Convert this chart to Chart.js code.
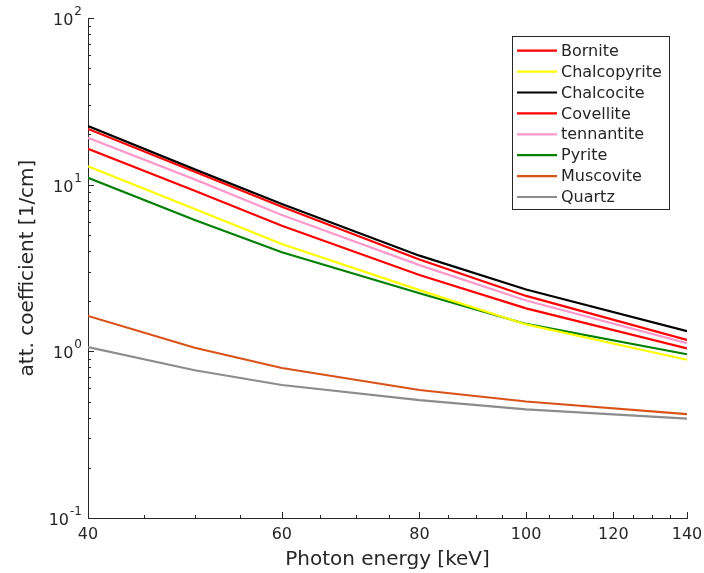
<!DOCTYPE html>
<html>
<head>
<meta charset="utf-8">
<title>Attenuation coefficients</title>
<script src="https://cdn.jsdelivr.net/npm/chart.js@4/dist/chart.umd.min.js"></script>
<style>
  html, body { margin: 0; padding: 0; background: #fff; }
  #wrap { width: 704px; height: 573px; }
</style>
</head>
<body>
<div id="wrap"><canvas id="attChart" width="704" height="573"></canvas></div>
<script>
// photon energies [keV]
const energies = [40, 50, 60, 80, 100, 140];

// attenuation coefficients [1/cm]
const bornite      = [21.6, 11.95, 7.37, 3.56, 2.15, 1.17];
const chalcopyrite = [12.9, 7.14, 4.40, 2.33, 1.45, 0.89];
const chalcocite   = [22.5, 12.35, 7.65, 3.75, 2.35, 1.32];
const covellite    = [16.4, 9.19, 5.67, 2.87, 1.81, 1.04];
const tennantite   = [19.1, 10.76, 6.57, 3.29, 2.02, 1.12];
const pyrite       = [11.0, 6.13, 3.93, 2.23, 1.46, 0.96];
const muscovite    = [1.63, 1.05, 0.794, 0.586, 0.50, 0.42];
const quartz       = [1.06, 0.77, 0.628, 0.51, 0.449, 0.395];

const xTickValues = [40, 60, 80, 100, 120, 140];
const yTickValues = [0.1, 1, 10, 100];
const yTickExps   = ['-1', '0', '1', '2'];

const fontFamily = '"DejaVu Sans", sans-serif';
const textColor = '#262626';
const axisColor = '#262626';

function toPoints(values) {
  return energies.map((e, i) => ({ x: e, y: values[i] }));
}

function series(label, values, color) {
  return { label: label, data: toPoints(values), borderColor: color, backgroundColor: color };
}

// inward tick marks (major + minor) and the superscript y labels
const axisDecor = {
  id: 'axisDecor',
  afterDraw(chart) {
    const { ctx, chartArea: a, scales: { x, y } } = chart;
    ctx.save();
    ctx.strokeStyle = axisColor;
    ctx.lineWidth = 1;
    ctx.beginPath();
    const xMinor = [];
    for (let v = 45; v < 140; v += 5) {
      if (!xTickValues.includes(v)) xMinor.push(v);
    }
    xTickValues.forEach(v => {
      const px = Math.round(x.getPixelForValue(v)) + 0.5;
      ctx.moveTo(px, a.bottom); ctx.lineTo(px, a.bottom - 6);
    });
    xMinor.forEach(v => {
      const px = Math.round(x.getPixelForValue(v)) + 0.5;
      ctx.moveTo(px, a.bottom); ctx.lineTo(px, a.bottom - 3);
    });
    yTickValues.forEach(v => {
      const py = Math.round(y.getPixelForValue(v)) + 0.5;
      ctx.moveTo(a.left, py); ctx.lineTo(a.left + 6, py);
    });
    [0.1, 1, 10].forEach(d => {
      for (let k = 2; k <= 9; k++) {
        const py = Math.round(y.getPixelForValue(d * k)) + 0.5;
        ctx.moveTo(a.left, py); ctx.lineTo(a.left + 3, py);
      }
    });
    ctx.stroke();

    // y labels: 10 with a raised exponent
    ctx.fillStyle = textColor;
    ctx.textBaseline = 'middle';
    yTickValues.forEach((v, i) => {
      const py = y.getPixelForValue(v);
      const right = a.left - 6;
      ctx.font = '12px ' + fontFamily;
      const ew = ctx.measureText(yTickExps[i]).width;
      ctx.textAlign = 'left';
      ctx.fillText(yTickExps[i], right - ew, py - 6);
      ctx.font = '16px ' + fontFamily;
      ctx.textAlign = 'right';
      ctx.fillText('10', right - ew - 1, py + 3);
    });
    ctx.restore();
  }
};

// boxed legend in the upper right of the plot area
const boxLegend = {
  id: 'boxLegend',
  afterDraw(chart) {
    const { ctx } = chart;
    const x0 = 512, y0 = 36, w = 157, h = 173, rowH = 20.9;
    ctx.save();
    ctx.fillStyle = '#fff';
    ctx.fillRect(x0, y0, w, h);
    ctx.strokeStyle = axisColor;
    ctx.lineWidth = 1;
    ctx.strokeRect(x0 + 0.5, y0 + 0.5, w, h);
    ctx.font = '16px ' + fontFamily;
    ctx.textBaseline = 'middle';
    ctx.textAlign = 'left';
    chart.data.datasets.forEach((ds, i) => {
      const cy = y0 + 14.7 + i * rowH;
      ctx.strokeStyle = ds.borderColor;
      ctx.lineWidth = 2.2;
      ctx.beginPath();
      ctx.moveTo(x0 + 5, cy);
      ctx.lineTo(x0 + 45, cy);
      ctx.stroke();
      ctx.fillStyle = textColor;
      ctx.fillText(ds.label, x0 + 49, cy + 1);
    });
    ctx.restore();
  }
};

new Chart(document.getElementById('attChart'), {
  type: 'line',
  data: {
    datasets: [
      series('Bornite', bornite, '#ff0000'),
      series('Chalcopyrite', chalcopyrite, '#ffff00'),
      series('Chalcocite', chalcocite, '#000000'),
      series('Covellite', covellite, '#ff0000'),
      series('tennantite', tennantite, '#ff99cc'),
      series('Pyrite', pyrite, '#008000'),
      series('Muscovite', muscovite, '#d95319'),
      series('Quartz', quartz, '#8c8c8c')
    ]
  },
  options: {
    responsive: false,
    animation: false,
    layout: { padding: { left: 0, right: 17, top: 18, bottom: 0 } },
    elements: {
      point: { radius: 0 },
      line: { tension: 0, borderWidth: 2.2 }
    },
    plugins: {
      legend: { display: false },
      tooltip: { enabled: false }
    },
    scales: {
      x: {
        type: 'logarithmic',
        min: 40,
        max: 140,
        afterBuildTicks: s => { s.ticks = xTickValues.map(v => ({ value: v })); },
        afterFit: s => { s.height = 55; s.paddingLeft = 0; s.paddingRight = 0; },
        grid: { display: false, drawTicks: false },
        border: { display: true, color: axisColor, width: 1 },
        ticks: {
          callback: v => String(v),
          font: { family: fontFamily, size: 16 },
          color: textColor,
          padding: 7,
          maxRotation: 0,
          autoSkip: false
        },
        title: {
          display: true,
          text: 'Photon energy [keV]',
          font: { family: fontFamily, size: 20 },
          color: textColor,
          padding: { top: 0, bottom: 1 }
        }
      },
      y: {
        type: 'logarithmic',
        min: 0.1,
        max: 100,
        afterBuildTicks: s => { s.ticks = yTickValues.map(v => ({ value: v })); },
        afterFit: s => { s.width = 88; s.paddingTop = 0; s.paddingBottom = 0; },
        grid: { display: false, drawTicks: false },
        border: { display: true, color: axisColor, width: 1 },
        ticks: { display: false },
        title: {
          display: true,
          text: 'att. coefficient [1/cm]',
          font: { family: fontFamily, size: 20 },
          color: textColor,
          padding: { top: 16, bottom: 0 }
        }
      }
    }
  },
  plugins: [axisDecor, boxLegend]
});
</script>
</body>
</html>
